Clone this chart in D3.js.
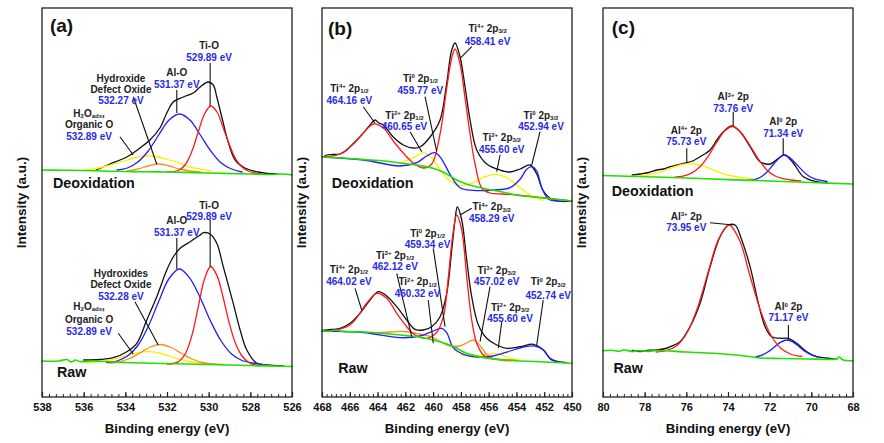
<!DOCTYPE html>
<html><head><meta charset="utf-8">
<script src="https://cdn.jsdelivr.net/npm/d3@7"></script>
<style>
body{margin:0;background:#fff;}
svg{display:block;font-family:"Liberation Sans",Arial,sans-serif;}
</style></head><body>
<svg id="chart" width="884" height="443"></svg>
<script>
// ---------- tick labels ----------
const aTicks = [538,536,534,532,530,528,526];
const bTicks = [468,466,464,462,460,458,456,454,452,450];
const cTicks = [80,78,76,74,72,70,68];

// ---------- (a) O 1s : [binding energy, intensity a.u.] ----------
const aDeoxGreen = [[538,227],[537,226.8],[536,226.5],[534,225.5],[532,225],[530,224],[528,223],[527,222.5],[526.5,223],[526,222]];
const aDeoxBlack = [[535.4,227],[534.74,233],[533.93,240],[533.3,249],[532.82,257],[532.34,269],[532.01,284],[531.7,295],[531.22,300],[530.74,304],[530.41,310],[530.02,315],[529.78,312],[529.61,300],[529.37,280],[529.05,254],[528.73,237],[528.26,229],[527.63,225],[527.2,223.5],[526.73,223]];
const aDeoxRed = [[532.0,225],[531.4,227],[531.1,233],[530.8,246],[530.5,265],[530.2,283],[529.9,291],[529.6,285],[529.3,269],[529.0,252],[528.7,238],[528.4,230],[528.1,226],[527.8,224],[527.5,223]];
const aDeoxBlue = [[534.4,227],[533.9,229],[533.4,235],[532.9,246],[532.4,262],[531.9,277],[531.4,283],[530.9,277],[530.4,262],[529.9,246],[529.4,234],[528.9,228],[528.4,225]];
const aDeoxOrange = [[533.9,226],[533.4,228],[532.9,231],[532.4,233],[531.9,231],[531.4,228],[530.9,226],[530.4,225]];
const aDeoxYellow = [[536.0,226.5],[535.4,228.5],[534.9,231],[534.4,234],[533.9,237],[533.4,240],[532.9,241],[532.4,240],[531.9,237],[531.4,234],[530.9,230],[530.4,228],[529.9,226]];

const aRawGreen = [[538,36],[537.2,36],[536.8,37.5],[536.6,35],[536.4,37],[536.2,35.5],[535.6,36],[534,34.5],[532,33.5],[530,32.5],[528,31.5],[526,30.5]];
const aRawBlack = [[536.0,37],[535.2,37.5],[534.58,39.3],[533.93,45.3],[533.45,53.7],[532.97,77],[532.49,100.3],[532.01,127],[531.7,140],[531.37,148.7],[530.89,155.3],[530.41,162],[530.25,164.3],[529.93,163],[529.61,153.7],[529.3,130.3],[528.82,93.7],[528.49,67],[528.17,47],[527.69,33.7],[527.2,32],[526.42,31]];
const aRawRed = [[532.0,33],[531.7,33.5],[531.4,36],[531.1,44],[530.8,62],[530.5,90],[530.2,118],[529.9,130.5],[529.6,121.4],[529.3,99],[529.0,73],[528.7,53],[528.4,41],[528.1,35],[527.8,32],[527.5,31.5]];
const aRawBlue = [[534.9,34.5],[534.4,36],[533.9,41],[533.4,51.5],[532.9,70.5],[532.4,95.5],[531.9,118.5],[531.4,128],[530.9,118.7],[530.4,99],[529.9,75.5],[529.4,56],[528.9,43],[528.4,36.5],[527.9,34],[527.4,32.5]];
const aRawOrange = [[534.8,34],[534.3,35],[533.8,38.5],[533.3,44],[532.8,50],[532.3,52.5],[531.8,49.5],[531.3,43.5],[530.8,38],[530.3,34.5],[529.8,33],[529.3,32.5]];
const aRawYellow = [[535.9,34.5],[535.4,35],[534.9,36.3],[534.4,38.6],[533.9,41.6],[533.4,44.3],[532.9,45.3],[532.4,44],[531.9,41],[531.4,37.8],[530.9,35.5],[530.4,34],[529.9,33]];

// ---------- (b) Ti 2p ----------
const bDeoxGreen = [[468,240],[466.5,239],[465,237.5],[463.5,236],[462.4,234],[461,231.5],[460,228.7],[459.2,224.5],[458.3,217],[457.5,212.5],[456.9,210.3],[456,207.5],[455,205],[454,202],[452,199],[450,196]];
const bDeoxBlack = [[467.9,240],[467.66,242],[467.2,242.5],[466.7,243],[466.3,246],[465.98,250.3],[465.26,260.3],[464.54,272],[464.18,277],[463.9,274],[463.58,272],[462.87,260],[462.15,252],[461.43,249],[460.94,250],[460.22,260],[459.5,277],[459.02,314],[458.66,347],[458.42,354],[458.06,340],[457.7,310],[457.34,277],[456.86,247],[456.14,233],[455.18,227],[454.46,225],[453.74,228],[453.02,232],[452.54,223],[452.06,206],[451.34,197],[450.02,196]];
const bDeoxRed = [[467.9,240],[466.7,243],[465.74,253],[465.02,264],[464.3,273],[463.58,269],[462.87,256],[462.15,244],[461.43,234],[460.71,229],[460.1,233],[459.5,263],[459.02,309],[458.66,339],[458.42,348],[458.06,333],[457.7,299],[457.34,263],[456.98,233],[456.5,209],[455.9,204],[455,203],[454,202],[452,199],[450,196]];
const bDeoxBlue = [[468,240],[465,237],[462.38,231],[461.18,234.3],[460.46,241],[459.86,244.3],[459.38,237.7],[458.78,222.7],[458.06,209.3],[457.1,206.7],[455.66,207],[454.46,209.3],[453.74,217.7],[453.26,227.7],[452.9,230.3],[452.54,226],[452.18,209.3],[451.7,197.7],[451.1,196],[450.5,195.5]];
const bDeoxYellow = [[462.38,233.7],[461.43,239.3],[460.71,244.3],[460.1,239.3],[459.5,227.7],[458.78,216],[458.06,211.7],[457.1,214.3],[456.26,220.3],[455.54,222.7],[454.7,219.3],[453.74,209.3],[452.78,200],[452.06,196.7]];

const bRawGreen = [[468,66.5],[467.5,65.5],[467,67],[466.5,65.5],[465,65],[463.5,63.5],[462.4,62],[461,60],[460,57],[459,53],[458.5,50.3],[457.6,43.7],[456.1,38.7],[455,37.3],[454,36.3],[452,35],[450,33.7]];
const bRawBlack = [[468,66.7],[467.3,67.5],[466.7,68.7],[465.98,73.7],[465.26,83.7],[464.54,97],[463.95,105.3],[463.34,101],[462.62,90.3],[461.9,77],[461.3,67.7],[460.71,67],[460.1,70.3],[459.5,80.3],[459.02,103.7],[458.66,147],[458.42,177],[458.26,190],[457.94,177],[457.58,137],[457.22,100.3],[456.74,72],[456.14,58.7],[455.42,52],[454.7,48.7],[453.74,50.3],[452.78,52.7],[452.06,47],[451.46,37],[450.38,34.3]];
const bRawRed = [[467.5,66],[465.98,72],[464.78,93.7],[464.06,103.7],[463.34,98.7],[462.62,83.7],[461.9,70.3],[461.3,62],[460.46,58.7],[459.74,64.7],[459.26,80.3],[458.9,120.3],[458.6,160.3],[458.3,182],[457.94,167],[457.58,120.3],[457.22,77],[456.86,53.7],[456.38,42],[455.9,38.7],[455,37.3],[454,36.3]];
const bRawOrange = [[464.5,64],[463,65],[462.1,65.5],[461,63],[460,59.5],[459.3,54],[458.8,51],[458.1,51],[457.6,54],[457.1,57],[456.6,51],[456.1,42],[455.6,38],[455,36.5],[454.4,36]];
const bRawBlue = [[468,66],[465,64.5],[462.38,59.3],[460.94,61],[459.99,66],[459.38,68.7],[459.02,64.3],[458.55,49.3],[457.82,42.7],[456.86,40],[455.66,41],[454.46,46],[453.5,50],[452.66,51],[452.06,47],[451.58,38.7],[450.98,35.3],[450.5,34.5]];
const bRawYellow = [[458,42],[457.3,41.5],[456.8,41.5],[456.2,42.5],[455.6,43.5],[455,41.5],[454.4,38.5],[453.8,37]];

// ---------- (c) Al 2p ----------
const cDeoxGreen = [[80,221.5],[78,220.3],[76,219],[74,217.4],[72,216],[70,214.5],[68,213]];
const cDeoxBlack = [[78.6,222],[78.22,223],[77.8,224.5],[77.42,227],[77.1,228],[76.78,230.3],[76.14,233.7],[75.7,236],[75.34,240.3],[74.86,247],[74.54,257],[74.22,265.3],[73.82,271],[73.42,265.3],[72.94,250.3],[72.46,235.3],[71.98,233],[71.58,238.7],[71.26,242],[70.86,233.7],[70.38,220.3],[69.74,215.3],[69.26,214.3]];
const cDeoxRed = [[76.56,219.9],[76.16,220.9],[75.76,223.9],[75.36,230],[74.96,240.5],[74.56,254],[74.16,266],[73.76,270.5],[73.36,264],[72.96,252],[72.56,238.5],[72.16,227.5],[71.76,221.2],[71.36,218.3],[70.96,217],[70.5,216.2]];
const cDeoxYellow = [[78.6,220.5],[78.3,221],[77.8,222.3],[77.3,224.7],[76.8,228.4],[76.3,232],[75.8,233.5],[75.3,231.8],[74.8,227.8],[74.3,223.7],[73.8,221],[73.3,219.3],[72.8,218.2]];
const cDeoxBlue = [[73.1,216.6],[72.74,217.4],[72.44,219.8],[72.14,224.7],[71.84,232],[71.54,239.1],[71.34,242],[71.04,239.4],[70.74,233.4],[70.44,226.6],[70.14,221.2],[69.84,218.2],[69.54,216.6],[69.24,215.5]];

const cRawGreen = [[80,46.3],[79.6,46.8],[79.2,45.8],[79.0,47.2],[78.6,45.5],[78.3,46.3],[77.8,45.6],[77.4,46.5],[76,45],[74.2,43],[73,40.5],[72.6,39.3],[71.5,38.5],[70.2,38],[69,37.6],[68.8,37.8],[68.65,40],[68.5,37.3],[68,36.3]];
const cRawBlack = [[78.6,46.5],[78.2,45.5],[77.8,46.8],[77.42,47],[77,48.5],[76.78,50.3],[76.3,55.3],[75.82,70.3],[75.34,93.7],[74.86,130.3],[74.38,160.3],[73.98,172],[73.66,172],[73.34,157],[72.94,130.3],[72.54,93.7],[72.22,70.3],[71.9,60.3],[71.42,58.7],[71.1,58.7],[70.7,53.7],[70.22,45.3],[69.74,40.3],[69.3,39],[68.78,37.7]];
const cRawRed = [[77.45,45],[76.95,46.5],[76.45,51.5],[75.95,65],[75.45,90],[74.95,125],[74.45,158],[73.95,172],[73.45,157],[72.95,121.5],[72.45,87],[71.95,62],[71.45,48.5],[70.95,42.5],[70.45,40.5]];
const cRawBlue = [[72.67,40],[72.37,41.8],[72.07,45.2],[71.77,50.1],[71.47,54.9],[71.17,57],[70.87,54.9],[70.57,50.1],[70.27,45.2],[69.97,41.8],[69.67,39.8]];

// ---------- peak labels ----------
const aNotes = [
 {x:529.98, y:[352,340], t:['Ti-O','529.89 eV'], lead:[[529.93,334],[529.93,291]]},
 {x:531.53, y:[324.3,312.7], t:['Al-O','531.37 eV'], lead:[[531.53,307],[531.53,284]]},
 {x:534.21, y:[319,308,297], t:['Hydroxide','Defect Oxide','532.27 eV'], lead:[[533.62,300.3],[532.49,232.7]]},
 {x:535.74, y:[284,272.5,261], t:['H_{2}O_{ads},','Organic O','532.89 eV'], lead:[[534.26,260.3],[533.62,242]]},
 {x:529.98, y:[192,180.3], t:['Ti-O','529.89 eV'], lead:[[529.93,177],[529.93,130.3]]},
 {x:531.53, y:[177,164.3], t:['Al-O','531.37 eV'], lead:[[531.53,159],[531.53,128]]},
 {x:534.21, y:[123.7,112.5,101], t:['Hydroxides','Defect Oxide','532.28 eV'], lead:[[533.54,95.3],[532.42,52]]},
 {x:535.74, y:[90.5,77.5,65.3], t:['H_{2}O_{ads},','Organic O','532.89 eV'], lead:[[534.34,63.7],[533.62,43]]}
];
const bNotes = [
 {x:456.08, y:[368.7,355.3], t:['Ti^{4+} 2p_{3/2}','458.41 eV'], lead:[[457.22,350.3],[458.06,338.7]]},
 {x:460.92, y:[318.7,307], t:['Ti^{0} 2p_{1/2}','459.77 eV'], lead:[[460.58,300.3],[459.74,245.3]]},
 {x:466.03, y:[308.7,297], t:['Ti^{4+} 2p_{1/2}','464.16 eV'], lead:[[465.03,290.3],[464.18,273.7]]},
 {x:462.06, y:[282,271], t:['Ti^{2+} 2p_{1/2}','460.65 eV'], lead:[[461.66,265.3],[460.82,245.3]]},
 {x:455.06, y:[259.7,247.7], t:['Ti^{2+} 2p_{3/2}','455.60 eV'], lead:[[455.18,242],[455.42,225.3]]},
 {x:452.23, y:[282,270.3], t:['Ti^{0} 2p_{3/2}','452.94 eV'], lead:[[452.3,265.3],[452.9,232]]},
 {x:455.78, y:[190.3,178.7], t:['Ti^{4+} 2p_{3/2}','458.29 eV'], lead:[[457.22,188.7],[458.06,182]]},
 {x:460.4, y:[163.7,152.7], t:['Ti^{0} 2p_{1/2}','459.34 eV'], lead:[[459.99,148.7],[459.14,70.3]]},
 {x:462.74, y:[142,130.3], t:['Ti^{3+} 2p_{1/2}','462.12 eV'], lead:[[462.62,123.7],[461.54,60.3]]},
 {x:466.06, y:[127.7,116], t:['Ti^{4+} 2p_{1/2}','464.02 eV'], lead:[[465.62,108.7],[465.14,87]]},
 {x:461.12, y:[115.3,103.7], t:['Ti^{2+} 2p_{1/2}','460.32 eV'], lead:[[460.35,97],[459.99,53.7]]},
 {x:455.42, y:[127,115.3], t:['Ti^{3+} 2p_{3/2}','457.02 eV'], lead:[[455.9,110.3],[456.62,55.3]]},
 {x:454.46, y:[90,78.2], t:['Ti^{2+} 2p_{3/2}','455.60 eV'], lead:[[455.06,75],[455.31,48.7]]},
 {x:451.71, y:[115.3,102], t:['Ti^{0} 2p_{3/2}','452.74 eV'], lead:[[452.07,97],[452.54,52]]}
];
const cNotes = [
 {x:73.75, y:[300.3,288.7], t:['Al^{3+} 2p','73.76 eV'], lead:[[73.75,285.3],[73.75,271]]},
 {x:71.35, y:[275.3,263.7], t:['Al^{0} 2p','71.34 eV'], lead:[[71.35,258.7],[71.35,242]]},
 {x:76.0, y:[267,255.3], t:['Al^{4+} 2p','75.73 eV'], lead:[[75.98,248.7],[75.98,233.7]]},
 {x:76.0, y:[181,169.7], t:['Al^{3+} 2p','73.95 eV'], lead:[[74.86,174.3],[73.74,172]]},
 {x:71.1, y:[90.3,79.7], t:['Al^{0} 2p','71.17 eV'], lead:[[71.1,72],[71.1,57]]}
];

// ---------- drawing ----------
const COL = {black:'#111', red:'#ff1a1a', blue:'#1f1fff', orange:'#ff8c1a', yellow:'#ffee00', green:'#22e000'};
const svg = d3.select('#chart');
const TOP = 8, BOT = 397;

const panels = [
 {x0:42, x1:292, domain:[538,526], ticks:aTicks, letter:'(a)', notes:aNotes,
  series:[[aDeoxBlack,'black'],[aDeoxYellow,'yellow'],[aDeoxOrange,'orange'],[aDeoxBlue,'blue'],[aDeoxRed,'red'],[aDeoxGreen,'green'],
          [aRawBlack,'black'],[aRawYellow,'yellow'],[aRawOrange,'orange'],[aRawBlue,'blue'],[aRawRed,'red'],[aRawGreen,'green']],
  states:[{t:'Deoxidation',x:537.47,y:214.3},{t:'Raw',x:537.28,y:25.3}], letterPos:[537.62,372], titleX:21.7},
 {x0:322, x1:572, domain:[468,450], ticks:bTicks, letter:'(b)', notes:bNotes,
  series:[[bDeoxBlack,'black'],[bDeoxYellow,'yellow'],[bDeoxBlue,'blue'],[bDeoxRed,'red'],[bDeoxGreen,'green'],
          [bRawBlack,'black'],[bRawYellow,'yellow'],[bRawOrange,'orange'],[bRawBlue,'blue'],[bRawRed,'red'],[bRawGreen,'green']],
  states:[{t:'Deoxidation',x:467.3,y:213.7},{t:'Raw',x:466.83,y:28.7}], letterPos:[467.57,369], titleX:301.7},
 {x0:603, x1:853, domain:[80,68], ticks:cTicks, letter:'(c)', notes:cNotes,
  series:[[cDeoxBlack,'black'],[cDeoxYellow,'yellow'],[cDeoxBlue,'blue'],[cDeoxRed,'red'],[cDeoxGreen,'green'],
          [cRawBlack,'black'],[cRawBlue,'blue'],[cRawRed,'red'],[cRawGreen,'green']],
  states:[{t:'Deoxidation',x:79.58,y:206.3},{t:'Raw',x:79.5,y:28.7}], letterPos:[79.58,370.3], titleX:581.7}
];

function rich(sel, str, size){
  const parts = str.split(/(\^\{[^}]*\}|_\{[^}]*\})/).filter(s=>s.length);
  let shift = 0;
  parts.forEach(p=>{
    let t, target, fs;
    if (p.startsWith('^{')) { t=p.slice(2,-1); target=-size*0.36; fs=size*0.6; }
    else if (p.startsWith('_{')) { t=p.slice(2,-1); target=size*0.12; fs=size*0.6; }
    else { t=p; target=0; fs=size; }
    sel.append('tspan').attr('dy', target-shift).attr('font-size', fs).text(t);
    shift = target;
  });
}

panels.forEach(P=>{
  const x = d3.scaleLinear().domain(P.domain).range([P.x0, P.x1]);
  const y = d3.scaleLinear().domain([0, BOT-TOP]).range([BOT, TOP]);
  const g = svg.append('g');
  const line = d3.line().x(d=>x(d[0])).y(d=>y(d[1])).curve(d3.curveCatmullRom.alpha(0.5));

  P.series.forEach(([data,c])=>{
    g.append('path').datum(data).attr('d', line)
      .attr('fill','none').attr('stroke', COL[c]).attr('stroke-width', c==='green'?1.6:1.3)
      .attr('stroke-linejoin','round').attr('stroke-linecap','round');
  });

  g.append('rect').attr('x',P.x0).attr('y',TOP).attr('width',P.x1-P.x0).attr('height',BOT-TOP)
    .attr('fill','none').attr('stroke','#222').attr('stroke-width',1.3);

  const lo = Math.min(...P.domain), hi = Math.max(...P.domain);
  const minor = d3.range(0, (hi-lo)*3+1).map(i=>lo+i/3);
  const axMinor = d3.axisBottom(x).tickValues(minor).tickSize(-3).tickFormat('');
  const gm = g.append('g').attr('transform',`translate(0,${BOT})`).call(axMinor);
  gm.select('.domain').remove();
  gm.selectAll('line').attr('stroke','#222').attr('stroke-width',1);

  const ax = d3.axisBottom(x).tickValues(P.ticks).tickSize(-5).tickPadding(6).tickFormat(d3.format('d'));
  const ga = g.append('g').attr('transform',`translate(0,${BOT})`).call(ax);
  ga.select('.domain').remove();
  ga.selectAll('line').attr('stroke','#222').attr('stroke-width',1.2);
  ga.selectAll('text').attr('font-size',11).attr('font-weight','bold').attr('fill','#111')
    .attr('font-family','"Liberation Sans",Arial,sans-serif');

  g.append('text').attr('x',(P.x0+P.x1)/2).attr('y',433).attr('text-anchor','middle')
    .attr('font-size',13.2).attr('font-weight','bold').attr('fill','#111').text('Binding energy (eV)');
  g.append('text').attr('transform',`translate(${P.titleX},${(TOP+BOT)/2}) rotate(-90)`)
    .attr('text-anchor','middle').attr('dy','0.35em')
    .attr('font-size',13.5).attr('font-weight','bold').attr('fill','#111').text('Intensity (a.u.)');

  g.append('text').attr('x',x(P.letterPos[0])).attr('y',y(P.letterPos[1])+0.36*19)
    .attr('font-size',19).attr('font-weight','bold').attr('fill','#111').text(P.letter);

  P.states.forEach(s=>{
    g.append('text').attr('x',x(s.x)).attr('y',y(s.y)+0.36*14.3)
      .attr('font-size',14.3).attr('font-weight','bold').attr('fill','#111').text(s.t);
  });

  P.notes.forEach(n=>{
    g.append('line').attr('x1',x(n.lead[0][0])).attr('y1',y(n.lead[0][1]))
      .attr('x2',x(n.lead[1][0])).attr('y2',y(n.lead[1][1]))
      .attr('stroke','#111').attr('stroke-width',1.1);
    n.t.forEach((t,i)=>{
      const last = i===n.t.length-1;
      const txt = g.append('text').attr('x',x(n.x)).attr('y',y(n.y[i])+0.36*10)
        .attr('text-anchor','middle').attr('font-size',10).attr('font-weight','bold')
        .attr('fill', last ? '#2a2ae6' : '#222');
      rich(txt, t, 10);
    });
  });
});
</script>
</body></html>
